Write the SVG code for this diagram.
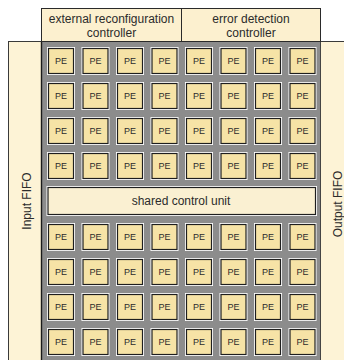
<svg xmlns="http://www.w3.org/2000/svg" width="344" height="360" viewBox="0 0 344 360">
  <style>
    .panel { fill: #fdf3d6; stroke: #3a3a3a; stroke-width: 1; }
    .ctrl { fill: #fcf0cf; stroke: #2a2a2a; stroke-width: 1; }
    .hl { fill: #ffffff; }
    .pe { fill: #f6e3a6; stroke: #1e1e1e; stroke-width: 1.2; }
    .scu { fill: #faf0d2; stroke: #1e1e1e; stroke-width: 1.2; }
    text { font-family: "Liberation Sans", Arial, sans-serif; fill: #2b2b2b; text-anchor: middle; }
    .lbl { font-size: 12px; }
    .pel { font-size: 9px; }
  </style>

  <!-- FIFO side panels -->
  <g id="input-fifo">
    <rect class="panel" x="8.5" y="41.5" width="33" height="322"/>
    <text class="lbl" transform="translate(30.6,201) rotate(-90)">Input FIFO</text>
  </g>
  <g id="output-fifo">
    <rect class="panel" x="320.5" y="41.5" width="30" height="322"/>
    <text class="lbl" transform="translate(341.8,204) rotate(-90)">Output FIFO</text>
  </g>

  <!-- array backplane -->
  <g id="array">
    <rect x="41" y="41" width="280" height="320" fill="#8c8c8c"/>
    <line x1="41.5" y1="41" x2="41.5" y2="360" stroke="#1a1a1a" stroke-width="1.4"/>
    <line x1="320.5" y1="41" x2="320.5" y2="360" stroke="#444" stroke-width="1"/>
  </g>

  <!-- controllers on top -->
  <g id="reconfig-controller">
    <rect class="ctrl" x="41.5" y="8.5" width="140" height="33"/>
    <text class="lbl" x="111.5" y="23">external reconfiguration</text>
    <text class="lbl" x="111.5" y="36.5">controller</text>
  </g>
  <g id="error-controller">
    <rect class="ctrl" x="181.5" y="8.5" width="139" height="33"/>
    <text class="lbl" x="251" y="23">error detection</text>
    <text class="lbl" x="251" y="36.5">controller</text>
  </g>

  <!-- shared control unit -->
  <g id="shared-control-unit">
    <rect class="hl" x="46.5" y="186" width="270.5" height="30"/>
    <rect class="scu" x="48" y="187.5" width="267.5" height="27"/>
    <text class="lbl" x="181" y="205">shared control unit</text>
  </g>

  <!-- processing elements -->
  <g id="pe-r0c0" transform="translate(47,47)"><rect class="hl" width="28" height="28"/><rect class="pe" x="1.5" y="1.5" width="25" height="25"/><text class="pel" x="14" y="17.2">PE</text></g>
  <g id="pe-r0c1" transform="translate(81.5,47)"><rect class="hl" width="28" height="28"/><rect class="pe" x="1.5" y="1.5" width="25" height="25"/><text class="pel" x="14" y="17.2">PE</text></g>
  <g id="pe-r0c2" transform="translate(116,47)"><rect class="hl" width="28" height="28"/><rect class="pe" x="1.5" y="1.5" width="25" height="25"/><text class="pel" x="14" y="17.2">PE</text></g>
  <g id="pe-r0c3" transform="translate(150.5,47)"><rect class="hl" width="28" height="28"/><rect class="pe" x="1.5" y="1.5" width="25" height="25"/><text class="pel" x="14" y="17.2">PE</text></g>
  <g id="pe-r0c4" transform="translate(185,47)"><rect class="hl" width="28" height="28"/><rect class="pe" x="1.5" y="1.5" width="25" height="25"/><text class="pel" x="14" y="17.2">PE</text></g>
  <g id="pe-r0c5" transform="translate(219.5,47)"><rect class="hl" width="28" height="28"/><rect class="pe" x="1.5" y="1.5" width="25" height="25"/><text class="pel" x="14" y="17.2">PE</text></g>
  <g id="pe-r0c6" transform="translate(254,47)"><rect class="hl" width="28" height="28"/><rect class="pe" x="1.5" y="1.5" width="25" height="25"/><text class="pel" x="14" y="17.2">PE</text></g>
  <g id="pe-r0c7" transform="translate(288.5,47)"><rect class="hl" width="28" height="28"/><rect class="pe" x="1.5" y="1.5" width="25" height="25"/><text class="pel" x="14" y="17.2">PE</text></g>

  <g id="pe-r1c0" transform="translate(47,82)"><rect class="hl" width="28" height="28"/><rect class="pe" x="1.5" y="1.5" width="25" height="25"/><text class="pel" x="14" y="17.2">PE</text></g>
  <g id="pe-r1c1" transform="translate(81.5,82)"><rect class="hl" width="28" height="28"/><rect class="pe" x="1.5" y="1.5" width="25" height="25"/><text class="pel" x="14" y="17.2">PE</text></g>
  <g id="pe-r1c2" transform="translate(116,82)"><rect class="hl" width="28" height="28"/><rect class="pe" x="1.5" y="1.5" width="25" height="25"/><text class="pel" x="14" y="17.2">PE</text></g>
  <g id="pe-r1c3" transform="translate(150.5,82)"><rect class="hl" width="28" height="28"/><rect class="pe" x="1.5" y="1.5" width="25" height="25"/><text class="pel" x="14" y="17.2">PE</text></g>
  <g id="pe-r1c4" transform="translate(185,82)"><rect class="hl" width="28" height="28"/><rect class="pe" x="1.5" y="1.5" width="25" height="25"/><text class="pel" x="14" y="17.2">PE</text></g>
  <g id="pe-r1c5" transform="translate(219.5,82)"><rect class="hl" width="28" height="28"/><rect class="pe" x="1.5" y="1.5" width="25" height="25"/><text class="pel" x="14" y="17.2">PE</text></g>
  <g id="pe-r1c6" transform="translate(254,82)"><rect class="hl" width="28" height="28"/><rect class="pe" x="1.5" y="1.5" width="25" height="25"/><text class="pel" x="14" y="17.2">PE</text></g>
  <g id="pe-r1c7" transform="translate(288.5,82)"><rect class="hl" width="28" height="28"/><rect class="pe" x="1.5" y="1.5" width="25" height="25"/><text class="pel" x="14" y="17.2">PE</text></g>

  <g id="pe-r2c0" transform="translate(47,117)"><rect class="hl" width="28" height="28"/><rect class="pe" x="1.5" y="1.5" width="25" height="25"/><text class="pel" x="14" y="17.2">PE</text></g>
  <g id="pe-r2c1" transform="translate(81.5,117)"><rect class="hl" width="28" height="28"/><rect class="pe" x="1.5" y="1.5" width="25" height="25"/><text class="pel" x="14" y="17.2">PE</text></g>
  <g id="pe-r2c2" transform="translate(116,117)"><rect class="hl" width="28" height="28"/><rect class="pe" x="1.5" y="1.5" width="25" height="25"/><text class="pel" x="14" y="17.2">PE</text></g>
  <g id="pe-r2c3" transform="translate(150.5,117)"><rect class="hl" width="28" height="28"/><rect class="pe" x="1.5" y="1.5" width="25" height="25"/><text class="pel" x="14" y="17.2">PE</text></g>
  <g id="pe-r2c4" transform="translate(185,117)"><rect class="hl" width="28" height="28"/><rect class="pe" x="1.5" y="1.5" width="25" height="25"/><text class="pel" x="14" y="17.2">PE</text></g>
  <g id="pe-r2c5" transform="translate(219.5,117)"><rect class="hl" width="28" height="28"/><rect class="pe" x="1.5" y="1.5" width="25" height="25"/><text class="pel" x="14" y="17.2">PE</text></g>
  <g id="pe-r2c6" transform="translate(254,117)"><rect class="hl" width="28" height="28"/><rect class="pe" x="1.5" y="1.5" width="25" height="25"/><text class="pel" x="14" y="17.2">PE</text></g>
  <g id="pe-r2c7" transform="translate(288.5,117)"><rect class="hl" width="28" height="28"/><rect class="pe" x="1.5" y="1.5" width="25" height="25"/><text class="pel" x="14" y="17.2">PE</text></g>

  <g id="pe-r3c0" transform="translate(47,152)"><rect class="hl" width="28" height="28"/><rect class="pe" x="1.5" y="1.5" width="25" height="25"/><text class="pel" x="14" y="17.2">PE</text></g>
  <g id="pe-r3c1" transform="translate(81.5,152)"><rect class="hl" width="28" height="28"/><rect class="pe" x="1.5" y="1.5" width="25" height="25"/><text class="pel" x="14" y="17.2">PE</text></g>
  <g id="pe-r3c2" transform="translate(116,152)"><rect class="hl" width="28" height="28"/><rect class="pe" x="1.5" y="1.5" width="25" height="25"/><text class="pel" x="14" y="17.2">PE</text></g>
  <g id="pe-r3c3" transform="translate(150.5,152)"><rect class="hl" width="28" height="28"/><rect class="pe" x="1.5" y="1.5" width="25" height="25"/><text class="pel" x="14" y="17.2">PE</text></g>
  <g id="pe-r3c4" transform="translate(185,152)"><rect class="hl" width="28" height="28"/><rect class="pe" x="1.5" y="1.5" width="25" height="25"/><text class="pel" x="14" y="17.2">PE</text></g>
  <g id="pe-r3c5" transform="translate(219.5,152)"><rect class="hl" width="28" height="28"/><rect class="pe" x="1.5" y="1.5" width="25" height="25"/><text class="pel" x="14" y="17.2">PE</text></g>
  <g id="pe-r3c6" transform="translate(254,152)"><rect class="hl" width="28" height="28"/><rect class="pe" x="1.5" y="1.5" width="25" height="25"/><text class="pel" x="14" y="17.2">PE</text></g>
  <g id="pe-r3c7" transform="translate(288.5,152)"><rect class="hl" width="28" height="28"/><rect class="pe" x="1.5" y="1.5" width="25" height="25"/><text class="pel" x="14" y="17.2">PE</text></g>

  <g id="pe-r4c0" transform="translate(47,223)"><rect class="hl" width="28" height="28"/><rect class="pe" x="1.5" y="1.5" width="25" height="25"/><text class="pel" x="14" y="17.2">PE</text></g>
  <g id="pe-r4c1" transform="translate(81.5,223)"><rect class="hl" width="28" height="28"/><rect class="pe" x="1.5" y="1.5" width="25" height="25"/><text class="pel" x="14" y="17.2">PE</text></g>
  <g id="pe-r4c2" transform="translate(116,223)"><rect class="hl" width="28" height="28"/><rect class="pe" x="1.5" y="1.5" width="25" height="25"/><text class="pel" x="14" y="17.2">PE</text></g>
  <g id="pe-r4c3" transform="translate(150.5,223)"><rect class="hl" width="28" height="28"/><rect class="pe" x="1.5" y="1.5" width="25" height="25"/><text class="pel" x="14" y="17.2">PE</text></g>
  <g id="pe-r4c4" transform="translate(185,223)"><rect class="hl" width="28" height="28"/><rect class="pe" x="1.5" y="1.5" width="25" height="25"/><text class="pel" x="14" y="17.2">PE</text></g>
  <g id="pe-r4c5" transform="translate(219.5,223)"><rect class="hl" width="28" height="28"/><rect class="pe" x="1.5" y="1.5" width="25" height="25"/><text class="pel" x="14" y="17.2">PE</text></g>
  <g id="pe-r4c6" transform="translate(254,223)"><rect class="hl" width="28" height="28"/><rect class="pe" x="1.5" y="1.5" width="25" height="25"/><text class="pel" x="14" y="17.2">PE</text></g>
  <g id="pe-r4c7" transform="translate(288.5,223)"><rect class="hl" width="28" height="28"/><rect class="pe" x="1.5" y="1.5" width="25" height="25"/><text class="pel" x="14" y="17.2">PE</text></g>

  <g id="pe-r5c0" transform="translate(47,258)"><rect class="hl" width="28" height="28"/><rect class="pe" x="1.5" y="1.5" width="25" height="25"/><text class="pel" x="14" y="17.2">PE</text></g>
  <g id="pe-r5c1" transform="translate(81.5,258)"><rect class="hl" width="28" height="28"/><rect class="pe" x="1.5" y="1.5" width="25" height="25"/><text class="pel" x="14" y="17.2">PE</text></g>
  <g id="pe-r5c2" transform="translate(116,258)"><rect class="hl" width="28" height="28"/><rect class="pe" x="1.5" y="1.5" width="25" height="25"/><text class="pel" x="14" y="17.2">PE</text></g>
  <g id="pe-r5c3" transform="translate(150.5,258)"><rect class="hl" width="28" height="28"/><rect class="pe" x="1.5" y="1.5" width="25" height="25"/><text class="pel" x="14" y="17.2">PE</text></g>
  <g id="pe-r5c4" transform="translate(185,258)"><rect class="hl" width="28" height="28"/><rect class="pe" x="1.5" y="1.5" width="25" height="25"/><text class="pel" x="14" y="17.2">PE</text></g>
  <g id="pe-r5c5" transform="translate(219.5,258)"><rect class="hl" width="28" height="28"/><rect class="pe" x="1.5" y="1.5" width="25" height="25"/><text class="pel" x="14" y="17.2">PE</text></g>
  <g id="pe-r5c6" transform="translate(254,258)"><rect class="hl" width="28" height="28"/><rect class="pe" x="1.5" y="1.5" width="25" height="25"/><text class="pel" x="14" y="17.2">PE</text></g>
  <g id="pe-r5c7" transform="translate(288.5,258)"><rect class="hl" width="28" height="28"/><rect class="pe" x="1.5" y="1.5" width="25" height="25"/><text class="pel" x="14" y="17.2">PE</text></g>

  <g id="pe-r6c0" transform="translate(47,293)"><rect class="hl" width="28" height="28"/><rect class="pe" x="1.5" y="1.5" width="25" height="25"/><text class="pel" x="14" y="17.2">PE</text></g>
  <g id="pe-r6c1" transform="translate(81.5,293)"><rect class="hl" width="28" height="28"/><rect class="pe" x="1.5" y="1.5" width="25" height="25"/><text class="pel" x="14" y="17.2">PE</text></g>
  <g id="pe-r6c2" transform="translate(116,293)"><rect class="hl" width="28" height="28"/><rect class="pe" x="1.5" y="1.5" width="25" height="25"/><text class="pel" x="14" y="17.2">PE</text></g>
  <g id="pe-r6c3" transform="translate(150.5,293)"><rect class="hl" width="28" height="28"/><rect class="pe" x="1.5" y="1.5" width="25" height="25"/><text class="pel" x="14" y="17.2">PE</text></g>
  <g id="pe-r6c4" transform="translate(185,293)"><rect class="hl" width="28" height="28"/><rect class="pe" x="1.5" y="1.5" width="25" height="25"/><text class="pel" x="14" y="17.2">PE</text></g>
  <g id="pe-r6c5" transform="translate(219.5,293)"><rect class="hl" width="28" height="28"/><rect class="pe" x="1.5" y="1.5" width="25" height="25"/><text class="pel" x="14" y="17.2">PE</text></g>
  <g id="pe-r6c6" transform="translate(254,293)"><rect class="hl" width="28" height="28"/><rect class="pe" x="1.5" y="1.5" width="25" height="25"/><text class="pel" x="14" y="17.2">PE</text></g>
  <g id="pe-r6c7" transform="translate(288.5,293)"><rect class="hl" width="28" height="28"/><rect class="pe" x="1.5" y="1.5" width="25" height="25"/><text class="pel" x="14" y="17.2">PE</text></g>

  <g id="pe-r7c0" transform="translate(47,328)"><rect class="hl" width="28" height="28"/><rect class="pe" x="1.5" y="1.5" width="25" height="25"/><text class="pel" x="14" y="17.2">PE</text></g>
  <g id="pe-r7c1" transform="translate(81.5,328)"><rect class="hl" width="28" height="28"/><rect class="pe" x="1.5" y="1.5" width="25" height="25"/><text class="pel" x="14" y="17.2">PE</text></g>
  <g id="pe-r7c2" transform="translate(116,328)"><rect class="hl" width="28" height="28"/><rect class="pe" x="1.5" y="1.5" width="25" height="25"/><text class="pel" x="14" y="17.2">PE</text></g>
  <g id="pe-r7c3" transform="translate(150.5,328)"><rect class="hl" width="28" height="28"/><rect class="pe" x="1.5" y="1.5" width="25" height="25"/><text class="pel" x="14" y="17.2">PE</text></g>
  <g id="pe-r7c4" transform="translate(185,328)"><rect class="hl" width="28" height="28"/><rect class="pe" x="1.5" y="1.5" width="25" height="25"/><text class="pel" x="14" y="17.2">PE</text></g>
  <g id="pe-r7c5" transform="translate(219.5,328)"><rect class="hl" width="28" height="28"/><rect class="pe" x="1.5" y="1.5" width="25" height="25"/><text class="pel" x="14" y="17.2">PE</text></g>
  <g id="pe-r7c6" transform="translate(254,328)"><rect class="hl" width="28" height="28"/><rect class="pe" x="1.5" y="1.5" width="25" height="25"/><text class="pel" x="14" y="17.2">PE</text></g>
  <g id="pe-r7c7" transform="translate(288.5,328)"><rect class="hl" width="28" height="28"/><rect class="pe" x="1.5" y="1.5" width="25" height="25"/><text class="pel" x="14" y="17.2">PE</text></g>

  <!-- no connectors in this layout -->
  <g id="connectors"/>
</svg>
